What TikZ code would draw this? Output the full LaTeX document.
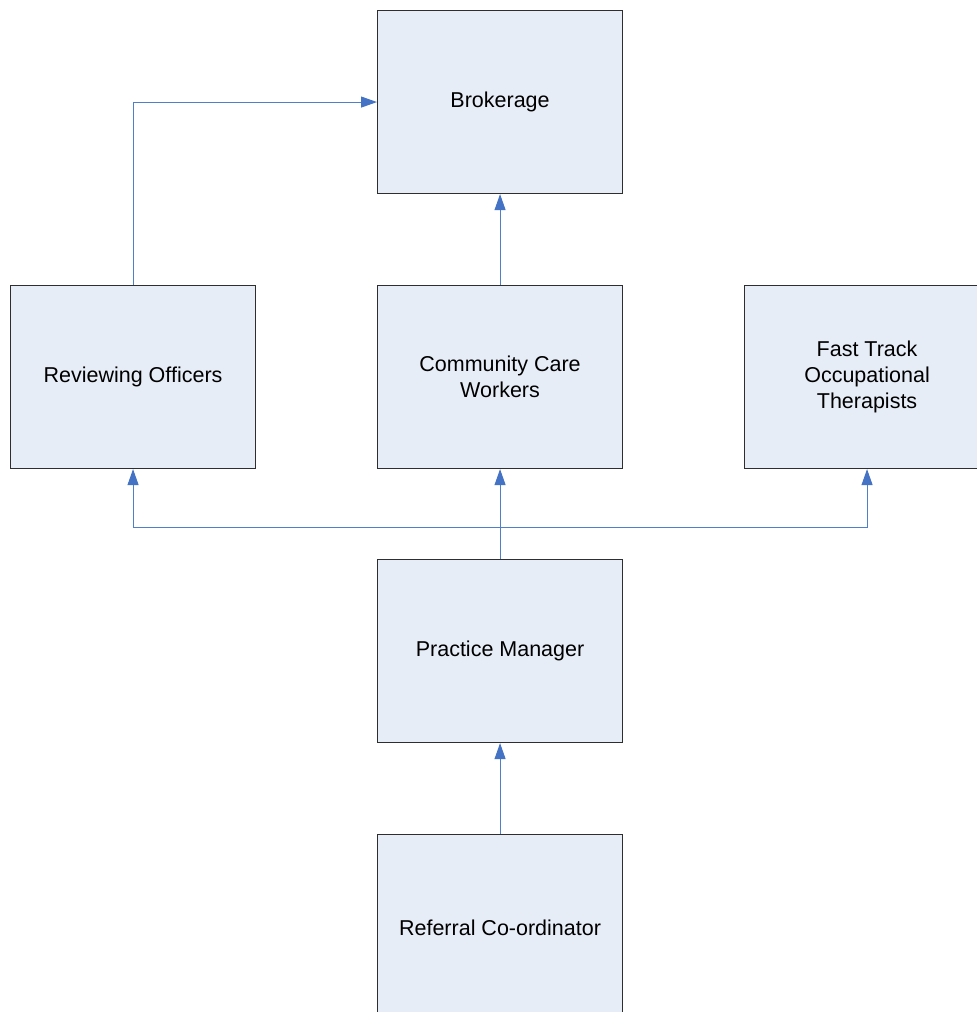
\documentclass[tikz,border=0pt]{standalone}
\usepackage{fontspec}
\setmainfont{Liberation Sans}
\usetikzlibrary{arrows.meta}
\definecolor{boxfill}{HTML}{E7EDF7}
\definecolor{boxline}{HTML}{2E2E2E}
\definecolor{conn}{HTML}{4F7FC8}
\definecolor{tipc}{HTML}{4472C4}
\tikzset{
  orgbox/.style={draw=boxline, fill=boxfill, line width=1.1pt, minimum width=245pt, minimum height=183pt,
    inner sep=0pt, anchor=north west, align=center, font=\fontsize{21.5pt}{26pt}\selectfont},
  link/.style={draw=conn, line width=1pt, -{Triangle[length=16pt,width=11pt,fill=tipc,color=tipc]}},
}
\begin{document}
\begin{tikzpicture}[x=1pt,y=-1pt]
\useasboundingbox (0,0) rectangle (977,1012);
\clip (0,0) rectangle (977,1012);
\fill[white] (0,0) rectangle (977,1012);
\node[orgbox] (brok) at (377,10) {\raisebox{-1pt}{Brokerage}};
\node[orgbox] (rev) at (10,285) {\raisebox{-1pt}{Reviewing Officers}};
\node[orgbox] (ccw) at (377,285) {Community Care\\Workers};
\node[orgbox] (ft) at (744,285) {Fast Track\\Occupational\\Therapists};
\node[orgbox] (pm) at (377,559) {\raisebox{-2pt}{Practice Manager}};
\node[orgbox, minimum height=190pt] (ref) at (377,834) {\raisebox{4pt}{Referral Co-ordinator}};
\coordinate (bus) at (499.5,527);
\draw[link] (rev.north) |- (brok.west);
\draw[link] (ccw.north) -- (brok.south);
\draw[link] (pm.north) -- (ccw.south);
\draw[link] (bus) -| (rev.south);
\draw[link] (bus) -| (ft.south);
\draw[link] (ref.north) -- (pm.south);
\end{tikzpicture}
\end{document}
